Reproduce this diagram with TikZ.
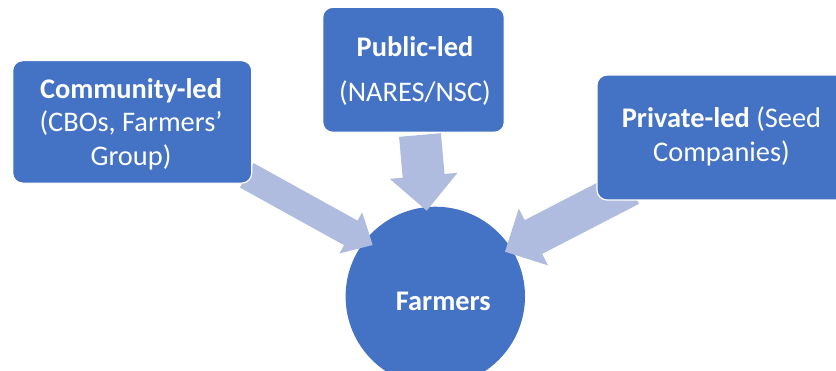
\documentclass[tikz,border=0pt]{standalone}
\usepackage{fontspec}
\setmainfont{Carlito}
\usetikzlibrary{calc}
\definecolor{boxblue}{RGB}{68,114,196}
\definecolor{arrowblue}{RGB}{175,188,223}
% #1 start, #2 tip, #3 shaft half-width, #4 head half-width, #5 head length
\newcommand\fatarrow[5]{%
  \coordinate (fa-h) at ($(#2)!#5!(#1)$);
  \fill[arrowblue] ($(#1)!#3!90:(#2)$) -- ($(fa-h)!#3!90:(#2)$) -- ($(fa-h)!#4!90:(#2)$) -- (#2)
    -- ($(fa-h)!#4!-90:(#2)$) -- ($(fa-h)!#3!-90:(#2)$) -- ($(#1)!#3!-90:(#2)$) -- cycle;}
\tikzset{
  boxnode/.style={draw=white, line width=1.2pt, fill=boxblue, rounded corners=10pt, inner sep=0pt},
  txt/.style={text=white, align=center, font=\fontsize{28.4}{33.5}\selectfont},
}
\begin{document}
\begin{tikzpicture}[x=1pt,y=-1pt]
\useasboundingbox (0,0) rectangle (836,371);
\clip (0,0) rectangle (836,371);
% circle
\node[circle, fill=boxblue, minimum size=179.4pt, inner sep=0pt] (farm) at (435.3,296.4) {};
\node[txt, font=\fontsize{28.4}{33.5}\selectfont\bfseries] (farmtxt) at (443.3,301) {Farmers};
% arrows
\coordinate (ls) at (246.7,175.3);
\coordinate (lt) at (372.7,245);
\coordinate (ps) at (420,135);
\coordinate (pt) at (426.7,210.7);
\coordinate (rs) at (630.3,187);
\coordinate (rt) at (505,251.7);
\fatarrow{ls}{lt}{14pt}{23.5pt}{25pt}
\fatarrow{ps}{pt}{21pt}{34pt}{35pt}
\fatarrow{rs}{rt}{19pt}{32pt}{32pt}
% boxes
\node[boxnode, minimum width=239pt, minimum height=122.5pt] (comm) at (132.2,121.9) {};
\node[boxnode, minimum width=181.6pt, minimum height=125pt] (pub) at (413.5,69.8) {};
\node[boxnode, minimum width=253pt, minimum height=125pt] (priv) at (723.5,137.5) {};
\node[txt] (commtxt) at (131,124.2) {\textbf{Community-led}\\(CBOs, Farmers’\\Group)};
\node[txt] (pubtxt) at (415,71) {\textbf{Public-led}\\[12.2pt](NARES/NSC)};
\node[txt] (privtxt) at (721.5,136.4) {\textbf{Private-led} (Seed\\Companies)};
\end{tikzpicture}
\end{document}
